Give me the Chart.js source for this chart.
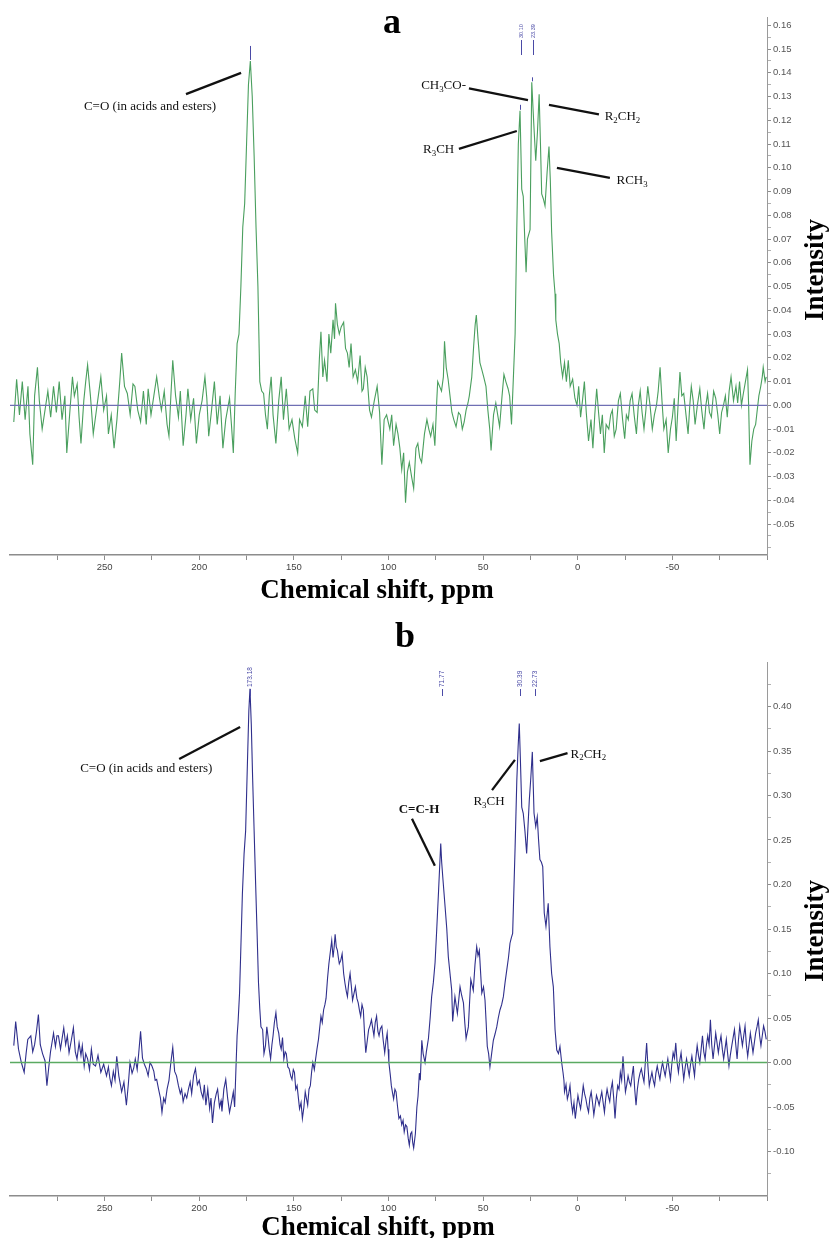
<!DOCTYPE html>
<html>
<head>
<meta charset="utf-8">
<script src="https://cdn.jsdelivr.net/npm/chart.js@4.4.1/dist/chart.umd.min.js"></script>
<style>
  html, body { margin: 0; padding: 0; background: #fff; }
  #wrap { position: relative; width: 830px; height: 1238px; overflow: hidden; background: #fff; }
  canvas { position: absolute; left: 0; }
  #chartA { top: 0; }
  #chartB { top: 610px; }
</style>
</head>
<body>
<div id="wrap">
  <canvas id="chartA" width="830" height="610" style="width:830px;height:610px"></canvas>
  <canvas id="chartB" width="830" height="628" style="width:830px;height:628px"></canvas>
</div>
<script>
// ---- data (ppm, intensity) ----
const shiftA = [
  298, 296.5, 295, 293.5, 292, 290.5, 289.5, 288, 287, 285.5,
  284.5, 283, 281.5, 280, 278.5, 277, 275.5, 274, 272.5, 271,
  270, 268.5, 267, 266, 264.5, 263.5, 262.5, 261, 260, 259,
  257.5, 256, 254.5, 253, 252, 250.5, 249, 248, 246.5, 245,
  243.5, 242, 241, 239.5, 238, 236.5, 235, 234, 232.5, 231,
  229.5, 228, 227, 225.5, 224, 222.5, 221, 220, 218.5, 217,
  216, 215, 214, 212.5, 211, 210, 208.5, 207, 206, 204.5,
  203, 201.5, 200, 198.5, 197, 196, 195, 193.5, 192, 190.5,
  189, 187.5, 186, 184, 183, 182, 181, 180, 179, 178,
  177, 176, 175, 174, 173, 172, 171, 170, 169, 168,
  167, 166, 165, 164, 163, 162, 161, 159.5, 158, 156.7,
  155.5, 154, 152.5, 151, 149.5, 148, 147, 145.5, 144, 142.7,
  141.5, 140, 139, 137.7, 136.5, 135.7, 134.7, 133.8, 132.5, 131.5,
  130.5, 129.3, 128.5, 128, 127, 126, 125, 123.7, 122.7, 121.7,
  120.8, 119.8, 118.7, 117.5, 116.3, 115, 114, 113.3, 112.3, 111.3,
  110, 109, 107.5, 106, 104.7, 103.5, 102.3, 101, 99.3, 98.3,
  97.3, 96, 95, 94, 93, 92, 91, 90, 89, 87.8,
  86.7, 85.5, 84.5, 83.5, 82.5, 81, 79.7, 78.7, 77.7, 76.5,
  75.5, 74.5, 74, 73, 72, 71, 70.4, 69.5, 68.5, 67.5,
  66.5, 65.5, 64.3, 63, 62, 61, 60, 59, 58, 57.3,
  56, 55, 54.2, 53.6, 52.7, 51.7, 50.7, 49.7, 48.5, 47.5,
  46.5, 45.8, 44.5, 43.3, 42.3, 41.3, 40, 39, 38, 36.8,
  36, 35, 34, 33.1, 32.2, 31.4, 30.5, 29.6, 28.8, 28,
  27.3, 26.6, 25.2, 24.3, 23.2, 22.2, 21.3, 20.4, 19.7, 19.05,
  18.2, 17.3, 16.2, 15.2, 14.5, 13.8, 12.8, 12, 11.6, 10.7,
  9.8, 9, 8, 7, 6, 5, 4, 2.7, 1.5, 0.4,
  -0.5, -1.5, -2.5, -3.5, -4.5, -5.7, -7, -8, -9, -10,
  -11, -12, -13, -14, -15, -16.4, -17.4, -18.3, -19.3, -20.3,
  -21.5, -22.5, -23.7, -24.8, -25.7, -26.7, -27.7, -28.7, -29.8, -31,
  -32, -33, -34, -35, -36, -37, -38.2, -39.4, -40.5, -41.6,
  -42.5, -43.5, -44.5, -45.5, -46.7, -47.8, -49, -50, -51, -52,
  -53, -54, -55, -56, -57.2, -58.3, -59.2, -60, -61, -62,
  -63.2, -64.5, -65.5, -66.7, -67.7, -68.6, -69.6, -70.6, -71.8, -72.9,
  -74, -75, -76, -77, -78, -79, -80, -81, -82.3, -83.6,
  -84.5, -85.5, -86.5, -87.5, -88.6, -89.7, -90.3, -91, -92, -93,
  -94, -94.7, -95.7, -96.7, -97.5, -98, -99, -99.6
];
const intensityA = [
  -0.007, 0.011, -0.004, 0.010, -0.006, 0.008, -0.012, -0.025, 0.004, 0.016,
  0.002, -0.010, -0.002, 0.006, -0.005, 0.008, -0.003, 0.010, -0.006, 0.004,
  -0.020, -0.004, 0.012, 0.004, 0.009, -0.005, -0.016, 0.002, 0.010, 0.017,
  0.004, -0.012, -0.003, 0.006, 0.012, -0.002, 0.004, -0.012, -0.004, -0.018,
  -0.006, 0.010, 0.022, 0.008, 0.005, -0.004, 0.009, 0.008, -0.002, -0.007,
  0.006, -0.008, 0.007, -0.004, 0.004, 0.012, 0.003, -0.002, 0.006, -0.008,
  -0.013, 0.004, 0.019, 0.004, -0.005, 0.006, -0.017, -0.004, 0.007, -0.006,
  0.003, -0.016, -0.004, 0.002, 0.012, 0.003, -0.013, -0.002, 0.010, -0.008,
  0.004, -0.018, -0.006, 0.003, -0.008, -0.020, 0.005, 0.026, 0.030, 0.050,
  0.075, 0.085, 0.110, 0.135, 0.145, 0.130, 0.105, 0.075, 0.050, 0.010,
  0.006, 0.005, -0.004, -0.010, 0.004, 0.012, -0.004, -0.016, 0.002, 0.012,
  -0.006, 0.007, -0.010, -0.006, -0.014, -0.020, -0.006, -0.009, 0.004, -0.009,
  0.006, 0.007, -0.002, -0.003, 0.020, 0.031, 0.012, 0.019, 0.010, 0.030,
  0.022, 0.036, 0.028, 0.043, 0.034, 0.030, 0.033, 0.035, 0.024, 0.022,
  0.016, 0.026, 0.012, 0.015, 0.010, 0.021, 0.006, 0.007, 0.016, 0.012,
  -0.002, -0.005, 0.002, 0.008, -0.003, -0.025, -0.006, -0.004, -0.010, -0.004,
  -0.017, -0.008, -0.012, -0.018, -0.027, -0.020, -0.041, -0.028, -0.024, -0.030,
  -0.035, -0.018, -0.016, -0.022, -0.024, -0.012, -0.006, -0.010, -0.013, -0.008,
  -0.017, 0.002, 0.010, 0.008, 0.006, 0.012, 0.027, 0.016, 0.011, 0.004,
  -0.003, -0.006, -0.009, -0.003, -0.004, -0.010, -0.007, -0.002, 0.001, 0.004,
  0.012, 0.025, 0.034, 0.038, 0.028, 0.018, 0.015, 0.012, 0.008, -0.002,
  -0.010, -0.019, -0.004, 0.001, -0.004, -0.009, 0.004, 0.013, 0.010, 0.007,
  0.004, -0.008, 0.012, 0.030, 0.075, 0.110, 0.124, 0.091, 0.088, 0.070,
  0.056, 0.070, 0.074, 0.136, 0.118, 0.103, 0.115, 0.131, 0.110, 0.089,
  0.087, 0.084, 0.098, 0.109, 0.095, 0.073, 0.055, 0.047, 0.036, 0.030,
  0.026, 0.018, 0.012, 0.018, 0.010, 0.019, 0.008, 0.011, 0.003, 0.000,
  0.008, -0.005, 0.002, 0.010, -0.003, -0.015, -0.006, -0.018, -0.004, 0.007,
  -0.003, -0.012, -0.004, -0.020, -0.008, -0.010, -0.004, -0.002, -0.013, -0.010,
  0.002, 0.005, -0.006, -0.014, -0.004, -0.006, 0.002, 0.005, -0.004, -0.012,
  0.000, 0.006, -0.003, -0.010, -0.002, 0.008, 0.000, -0.010, -0.004, 0.000,
  0.006, 0.016, 0.002, -0.010, -0.006, -0.020, -0.010, -0.005, 0.003, -0.015,
  0.000, 0.014, 0.004, 0.005, -0.004, -0.012, 0.000, 0.008, 0.002, -0.008,
  0.000, 0.007, -0.002, -0.010, 0.000, 0.005, -0.003, -0.005, 0.006, 0.003,
  -0.004, -0.012, -0.003, 0.000, 0.004, -0.005, 0.006, 0.012, 0.002, 0.008,
  0.001, 0.010, 0.000, 0.005, 0.010, 0.015, 0.000, -0.025, -0.015, -0.010,
  -0.008, -0.003, 0.004, 0.008, 0.012, 0.016, 0.010, 0.012
];

const shiftB = [
  298, 297, 295.5, 294, 292.5, 291.5, 290.6, 289, 288, 287,
  286, 285, 284, 282.8, 281.5, 280.5, 279.5, 278.6, 277.6, 277,
  276, 275.2, 274.4, 273.3, 272.4, 271.6, 270.6, 269.7, 268.8, 267.6,
  266.5, 265.5, 264.6, 263.5, 262.5, 261.8, 260.8, 260, 259, 258,
  257, 256, 254.8, 253.5, 252, 250.5, 249, 248, 247.2, 246.4,
  245.4, 244.5, 243.6, 242.5, 241, 239.8, 238.5, 237.5, 236.6, 235.5,
  234.6, 233.8, 232.8, 232, 231, 230, 229, 228, 227, 226,
  225, 224, 223.3, 222.5, 221.5, 220.5, 219.7, 218.8, 218, 217,
  216, 215, 214, 213, 212, 211, 210, 209.3, 208.5, 207.5,
  206.6, 205.7, 204.8, 204, 203, 202, 201, 200, 199, 198,
  197.3, 196.5, 195.5, 194.5, 193.8, 193, 192, 191, 190.3, 189.3,
  188.5, 188, 187, 186, 185, 184, 183, 182, 181.3, 180.5,
  180, 179.5, 178.7, 178, 177.2, 176.3, 175.5, 174.5, 173.8, 173.2,
  172.5, 171.8, 171, 170.2, 169.5, 168.7, 168, 167.4, 166.5, 165.8,
  165, 164.3, 163.7, 163, 162.3, 161.6, 161, 160.3, 159.5, 158.8,
  158, 157.3, 156.7, 156, 155.3, 154.6, 154, 153.2, 152.5, 151.7,
  151, 150.3, 149.7, 149, 148.3, 147.6, 147, 146.2, 145.5, 144.7,
  144, 143.4, 142.7, 142, 141.3, 140.6, 140, 139.2, 138.5, 137.8,
  137, 136.3, 135.7, 135, 134.3, 133.6, 133, 132.2, 131.5, 130.7,
  130, 129.3, 128.7, 128.2, 127.6, 127, 126.5, 126, 125.2, 124.5,
  123.7, 123, 122.3, 121.7, 121, 120.3, 119.6, 119, 118.2, 117.5,
  116.7, 116, 115.3, 114.7, 114, 113.3, 112.6, 112, 111.2, 110.5,
  109.7, 109, 108.3, 107.7, 107, 106.3, 105.6, 105, 104.3, 103.5,
  102.8, 102, 101.3, 100.7, 100.2, 99.8, 99, 98.5, 97.8, 97.3,
  96.6, 96, 95.2, 94.5, 93.7, 93, 92.3, 91.7, 91, 90.3,
  89.6, 89, 88.3, 87.7, 87.2, 86.7, 85.8, 85, 84.4, 83.7,
  83.2, 82.4, 81.7, 80.7, 80, 78.9, 78, 77.2, 76.3, 75.4,
  74.5, 73.5, 72.4, 71.9, 71.2, 70.1, 69.2, 68.4, 67.5, 66.6,
  66.1, 65.5, 64.9, 63.6, 62.9, 62.2, 61.3, 60.4, 59.7, 59,
  57.8, 57.1, 56.5, 55.2, 54.3, 53.4, 52.7, 52, 51.3, 50.7,
  49.8, 49, 48.4, 47.8, 47.1, 46.4, 45.5, 44.6, 43.7, 42.8,
  42, 41.1, 40.2, 39.3, 38.4, 37.5, 36.6, 35.8, 35.1, 34.4,
  33.8, 33.1, 32.2, 31.5, 30.9, 30.3, 29.6, 28.8, 27.9, 27,
  26.3, 25.6, 24.8, 24, 23.5, 23.1, 22.2, 21.4, 20.7, 20,
  19.2, 18.5, 17.7, 16.8, 15.6, 14.7, 13.8, 12.9, 12, 11.1,
  10.2, 9.4, 8.5, 7.8, 7.3, 7, 6.2, 5.5, 4.8, 4.1,
  3.4, 2.7, 2, 1.3, 0.6, -0.1, -0.8, -1.5, -2.2, -2.9,
  -3.6, -4.3, -5, -5.7, -6.4, -7.1, -7.8, -8.5, -9.2, -9.9,
  -10.6, -11.3, -12, -12.7, -13.4, -14.1, -14.8, -15.5, -16.2, -16.9,
  -17.6, -18.3, -19, -19.7, -20.4, -21.1, -21.8, -22.5, -23.2, -23.9,
  -24.6, -25.2, -25.9, -26.6, -27.3, -28, -28.7, -29.4, -30.1, -30.8,
  -31.5, -32.2, -32.9, -33.6, -34.3, -35, -35.7, -36.4, -37.1, -37.8,
  -38.5, -39.2, -39.9, -40.6, -41.3, -42, -42.7, -43.4, -44.1, -44.8,
  -45.5, -46.2, -46.9, -47.6, -48.3, -49, -49.7, -50.4, -51.1, -51.8,
  -52.5, -53.2, -53.9, -54.6, -55.3, -56, -56.8, -57.5, -58.2, -58.9,
  -59.6, -60.3, -61, -61.7, -62.4, -63.1, -63.8, -64.5, -65.2, -65.9,
  -66.6, -67.3, -68, -68.7, -69.4, -70.1, -70.8, -71.5, -72.2, -72.9,
  -73.6, -74.3, -75, -75.7, -76.4, -77.1, -77.8, -78.5, -79.2, -79.9,
  -80.6, -81.4, -82.1, -82.8, -83.5, -84.2, -84.9, -85.6, -86.3, -87,
  -87.7, -88.4, -89.1, -89.8, -90.5, -91.2, -91.9, -92.6, -93.3, -94,
  -94.7, -95.4, -96.1, -96.8, -97.5, -98.2, -98.9, -99.6
];
const intensityB = [
  0.019, 0.046, 0.015, 0.000, -0.011, 0.010, 0.026, 0.030, 0.012, 0.020,
  0.035, 0.054, 0.020, 0.010, 0.002, -0.026, -0.005, 0.012, 0.025, 0.033,
  0.018, 0.030, 0.030, 0.015, 0.028, 0.039, 0.020, 0.030, 0.011, 0.025,
  0.039, 0.012, 0.004, 0.022, 0.008, 0.019, -0.004, 0.010, 0.004, -0.008,
  0.015, -0.002, -0.004, 0.008, -0.011, -0.002, -0.015, -0.005, -0.018, -0.026,
  -0.010, -0.020, 0.007, -0.015, -0.033, -0.022, -0.048, -0.025, 0.000, -0.012,
  -0.006, 0.004, -0.008, 0.010, 0.035, 0.005, -0.002, -0.007, -0.015, 0.000,
  -0.004, -0.010, -0.020, -0.019, -0.030, -0.040, -0.056, -0.040, -0.045, -0.030,
  -0.020, 0.000, 0.017, -0.010, -0.015, -0.026, -0.035, -0.030, -0.044, -0.035,
  -0.040, -0.030, -0.022, -0.035, -0.015, -0.007, -0.025, -0.020, -0.033, -0.040,
  -0.025, -0.048, -0.030, -0.052, -0.040, -0.068, -0.045, -0.035, -0.030, -0.050,
  -0.043, -0.055, -0.030, -0.019, -0.040, -0.056, -0.045, -0.033, -0.050, 0.000,
  0.030, 0.045, 0.078, 0.130, 0.190, 0.235, 0.260, 0.340, 0.395, 0.420,
  0.380, 0.320, 0.260, 0.200, 0.150, 0.090, 0.060, 0.040, 0.037, 0.010,
  0.019, 0.040, 0.030, 0.015, 0.004, 0.020, 0.030, 0.045, 0.056, 0.040,
  0.033, 0.020, 0.015, 0.028, 0.004, 0.012, 0.010, -0.005, -0.007, -0.015,
  -0.019, -0.008, -0.011, -0.030, -0.026, -0.040, -0.052, -0.045, -0.063, -0.050,
  -0.033, -0.040, -0.048, -0.030, -0.026, -0.010, 0.000, -0.008, 0.004, 0.015,
  0.026, 0.040, 0.052, 0.045, 0.059, 0.065, 0.072, 0.095, 0.111, 0.125,
  0.137, 0.118, 0.130, 0.144, 0.130, 0.126, 0.118, 0.111, 0.115, 0.122,
  0.100, 0.089, 0.080, 0.074, 0.090, 0.100, 0.085, 0.070, 0.078, 0.085,
  0.072, 0.067, 0.058, 0.052, 0.065, 0.059, 0.030, 0.011, 0.025, 0.037,
  0.042, 0.048, 0.038, 0.030, 0.045, 0.052, 0.035, 0.030, 0.038, 0.041,
  0.025, 0.011, 0.025, 0.033, 0.015, 0.000, -0.015, -0.026, -0.035, -0.041,
  -0.030, -0.033, -0.050, -0.063, -0.060, -0.070, -0.065, -0.078, -0.070, -0.072,
  -0.085, -0.093, -0.080, -0.078, -0.090, -0.096, -0.080, -0.050, -0.038, -0.012,
  -0.020, 0.025, 0.010, 0.000, 0.012, 0.027, 0.050, 0.074, 0.090, 0.112,
  0.150, 0.195, 0.246, 0.225, 0.205, 0.175, 0.150, 0.119, 0.100, 0.081,
  0.046, 0.060, 0.074, 0.055, 0.070, 0.085, 0.075, 0.067, 0.045, 0.027,
  0.040, 0.070, 0.093, 0.081, 0.110, 0.130, 0.120, 0.126, 0.100, 0.078,
  0.085, 0.070, 0.045, 0.018, 0.010, -0.005, 0.010, 0.025, 0.032, 0.040,
  0.050, 0.059, 0.065, 0.074, 0.090, 0.104, 0.118, 0.134, 0.140, 0.145,
  0.190, 0.242, 0.317, 0.355, 0.381, 0.340, 0.287, 0.280, 0.260, 0.235,
  0.265, 0.295, 0.320, 0.349, 0.310, 0.280, 0.265, 0.276, 0.250, 0.228,
  0.225, 0.220, 0.168, 0.153, 0.179, 0.130, 0.100, 0.085, 0.037, 0.014,
  0.010, 0.018, 0.000, -0.011, -0.020, -0.033, -0.025, -0.041, -0.035, -0.026,
  -0.045, -0.056, -0.045, -0.063, -0.050, -0.037, -0.045, -0.052, -0.040, -0.026,
  -0.035, -0.041, -0.050, -0.056, -0.040, -0.033, -0.045, -0.059, -0.048, -0.037,
  -0.042, -0.048, -0.040, -0.033, -0.045, -0.056, -0.040, -0.030, -0.038, -0.044,
  -0.030, -0.022, -0.040, -0.063, -0.040, -0.026, -0.030, -0.011, -0.020, 0.007,
  -0.015, -0.033, -0.025, -0.015, -0.022, -0.026, -0.015, -0.004, -0.030, -0.048,
  -0.030, -0.019, -0.012, -0.007, -0.015, -0.022, 0.000, 0.022, -0.005, -0.026,
  -0.018, -0.011, -0.020, -0.026, -0.012, -0.004, -0.012, -0.019, -0.008, 0.000,
  -0.008, -0.015, -0.005, 0.004, -0.008, -0.019, -0.002, 0.011, 0.005, 0.022,
  0.000, -0.011, 0.002, 0.011, -0.004, -0.019, -0.005, 0.004, -0.006, -0.015,
  -0.002, 0.007, -0.004, -0.015, 0.005, 0.019, 0.008, 0.000, 0.015, 0.030,
  0.012, 0.004, 0.020, 0.030, 0.020, 0.048, 0.020, 0.004, 0.018, 0.033,
  0.022, 0.011, 0.022, 0.030, 0.015, 0.004, 0.015, 0.026, 0.010, -0.004,
  0.008, 0.019, 0.028, 0.037, 0.020, 0.004, 0.025, 0.041, 0.030, 0.019,
  0.030, 0.041, 0.020, 0.007, 0.020, 0.033, 0.022, 0.011, 0.022, 0.033,
  0.040, 0.048, 0.030, 0.019, 0.030, 0.041, 0.035, 0.026
];

// axis ticks
const xLabelled = [250, 200, 150, 100, 50, 0, -50];
const xMinor = [275, 225, 175, 125, 75, 25, -25, -75, -100];
const yLabelledA = [0.16, 0.15, 0.14, 0.13, 0.12, 0.11, 0.10, 0.09, 0.08, 0.07, 0.06,
  0.05, 0.04, 0.03, 0.02, 0.01, 0.00, -0.01, -0.02, -0.03, -0.04, -0.05];
const yMinorA = [0.155, 0.145, 0.135, 0.125, 0.115, 0.105, 0.095, 0.085, 0.075, 0.065,
  0.055, 0.045, 0.035, 0.025, 0.015, 0.005, -0.005, -0.015, -0.025, -0.035, -0.045, -0.055, -0.06];
const yLabelledB = [0.40, 0.35, 0.30, 0.25, 0.20, 0.15, 0.10, 0.05, 0.00, -0.05, -0.10];
const yMinorB = [0.425, 0.375, 0.325, 0.275, 0.225, 0.175, 0.125, 0.075, 0.025,
  -0.025, -0.075, -0.125];

// peak picks and assignments
const peakTagsA = [[30.10, '30.10'], [23.39, '23.39']];
const peakTagsB = [[173.18, '173.18'], [71.77, '71.77'], [30.39, '30.39'], [22.73, '22.73']];
const peakMarksA = [[173.1, 0.145, 14], [30.5, 0.124, 5], [24.3, 0.136, 4]];

const notesA = [
  { text: 'C=O (in acids and esters)', at: [226, 0.126], from: [207, 0.131], to: [177.9, 0.140] },
  { text: 'CH{3}CO-', at: [70.9, 0.135], from: [57.5, 0.1335], to: [26.3, 0.1285] },
  { text: 'R{2}CH{2}', at: [-23.6, 0.122], from: [15.2, 0.1265], to: [-11.2, 0.1225] },
  { text: 'R{3}CH', at: [73.5, 0.108], from: [62.8, 0.108], to: [32.2, 0.1155] },
  { text: 'RCH{3}', at: [-28.7, 0.095], from: [11, 0.100], to: [-17, 0.0958] }
];
const notesB = [
  { text: 'C=O (in acids and esters)', at: [228, 0.331], from: [210.6, 0.341], to: [178.4, 0.377] },
  { text: 'C=C-H', bold: true, at: [83.9, 0.285], from: [87.6, 0.274], to: [75.5, 0.221] },
  { text: 'R{3}CH', at: [46.9, 0.294], from: [45.3, 0.306], to: [33.2, 0.340] },
  { text: 'R{2}CH{2}', at: [-5.6, 0.3475], from: [20, 0.3386], to: [5.4, 0.3475] }
];

const SERIF = '"Liberation Serif", "Times New Roman", serif';

// draws text with {n} parts as subscripts, centred on cx/cy
function drawRich(ctx, text, cx, cy, size, bold) {
  const w8 = bold ? 'bold ' : '';
  const parts = text.split(/(\{[^}]*\})/).filter(Boolean)
    .map(p => p[0] === '{' ? { t: p.slice(1, -1), sub: true } : { t: p, sub: false });
  let total = 0;
  parts.forEach(p => {
    ctx.font = w8 + (p.sub ? size * 0.68 : size) + 'px ' + SERIF;
    p.w = ctx.measureText(p.t).width;
    total += p.w;
  });
  let x = cx - total / 2;
  const base = cy + size * 0.34;
  ctx.textAlign = 'left';
  ctx.textBaseline = 'alphabetic';
  parts.forEach(p => {
    ctx.font = w8 + (p.sub ? size * 0.68 : size) + 'px ' + SERIF;
    ctx.fillText(p.t, x, p.sub ? base + size * 0.2 : base);
    x += p.w;
  });
}

const decorPlugin = {
  id: 'decor',
  afterDraw(chart, args, o) {
    const { ctx } = chart;
    const x = chart.scales.x, y = chart.scales.y;
    ctx.save();
    ctx.fillStyle = '#000';

    // panel letter
    ctx.font = 'bold 36px ' + SERIF;
    ctx.textAlign = 'center';
    ctx.textBaseline = 'alphabetic';
    ctx.fillText(o.letter, o.letterPos[0], o.letterPos[1]);

    // axis titles
    ctx.font = 'bold 27px ' + SERIF;
    ctx.fillText('Chemical shift, ppm', o.xTitlePos[0], o.xTitlePos[1]);
    ctx.save();
    ctx.translate(o.yTitlePos[0], o.yTitlePos[1]);
    ctx.rotate(-Math.PI / 2);
    ctx.textBaseline = 'middle';
    ctx.fillText('Intensity', 0, 0);
    ctx.restore();

    // assignments
    ctx.strokeStyle = '#111';
    ctx.lineWidth = 2.3;
    o.notes.forEach(n => {
      ctx.beginPath();
      ctx.moveTo(x.getPixelForValue(n.from[0]), y.getPixelForValue(n.from[1]));
      ctx.lineTo(x.getPixelForValue(n.to[0]), y.getPixelForValue(n.to[1]));
      ctx.stroke();
      ctx.fillStyle = '#111';
      drawRich(ctx, n.text, x.getPixelForValue(n.at[0]), y.getPixelForValue(n.at[1]), 13, n.bold);
    });

    // peak picks
    ctx.fillStyle = '#4a4aa6';
    ctx.strokeStyle = '#4a4aa6';
    ctx.lineWidth = 1;
    o.tags.forEach(([ppm, label]) => {
      const px = Math.round(x.getPixelForValue(ppm)) + 0.5;
      ctx.save();
      ctx.translate(px, o.tagBottom);
      ctx.rotate(-Math.PI / 2);
      ctx.font = o.tagSize + 'px "Liberation Sans", sans-serif';
      ctx.textAlign = 'left';
      ctx.textBaseline = 'middle';
      ctx.fillText(label, 0, 0);
      ctx.restore();
      ctx.beginPath();
      ctx.moveTo(px, o.tagBottom + 2);
      ctx.lineTo(px, o.tagBottom + o.dash);
      ctx.stroke();
    });
    (o.marks || []).forEach(([ppm, v, len]) => {
      const px = Math.round(x.getPixelForValue(ppm)) + 0.5;
      const py = y.getPixelForValue(v);
      ctx.beginPath();
      ctx.moveTo(px, py - 1);
      ctx.lineTo(px, py - 1 - len);
      ctx.stroke();
    });
    ctx.restore();
  }
};

function makeSpectrum(id, cfg) {
  const ctx = document.getElementById(id).getContext('2d');
  const yLabelled = cfg.yLabelled;
  const isLabelled = v => yLabelled.some(m => Math.abs(m - v) < 1e-9);
  return new Chart(ctx, {
    type: 'line',
    data: {
      datasets: [
        {
          data: [{ x: 300, y: 0 }, { x: -100, y: 0 }],
          borderColor: cfg.zeroColor, borderWidth: 1.3, pointRadius: 0
        },
        {
          data: cfg.shifts.map((s, i) => ({ x: s, y: cfg.values[i] })),
          borderColor: cfg.lineColor, borderWidth: 1.1, pointRadius: 0, tension: 0
        }
      ]
    },
    options: {
      responsive: false,
      animation: false,
      devicePixelRatio: 1,
      layout: { padding: { left: 10, top: cfg.top, right: 0, bottom: 0 } },
      plugins: {
        legend: { display: false },
        tooltip: { enabled: false },
        decor: cfg.decor
      },
      scales: {
        x: {
          type: 'linear', reverse: true, min: -100, max: 300,
          afterBuildTicks: s => {
            s.ticks = xLabelled.concat(xMinor).sort((a, b) => b - a).map(v => ({ value: v }));
          },
          afterFit: s => { s.height = cfg.xAxisHeight; },
          grid: { drawOnChartArea: false, drawTicks: true, tickLength: 5, color: '#8c8c8c' },
          border: { display: true, color: '#8c8c8c', width: 1.5 },
          ticks: {
            autoSkip: false, maxRotation: 0, padding: 2, color: '#444',
            font: { family: 'Liberation Sans', size: 9.5 },
            callback: v => xLabelled.includes(v) ? String(v) : ''
          }
        },
        y: {
          type: 'linear', position: 'right', min: cfg.yMin, max: cfg.yMax,
          afterBuildTicks: s => {
            s.ticks = yLabelled.concat(cfg.yMinor).sort((a, b) => a - b).map(v => ({ value: v }));
          },
          afterFit: s => { s.width = 63; },
          grid: {
            drawOnChartArea: false, drawTicks: true, tickLength: 4,
            color: c => (c.tick && isLabelled(c.tick.value)) ? '#8c8c8c' : '#b0b0b0'
          },
          border: { display: true, color: '#9a9a9a', width: 1 },
          ticks: {
            autoSkip: false, padding: 2, color: '#555',
            font: { family: 'Liberation Sans', size: 9.5 },
            callback: v => isLabelled(v) ? v.toFixed(2) : ''
          }
        }
      }
    },
    plugins: [decorPlugin]
  });
}

makeSpectrum('chartA', {
  shifts: shiftA, values: intensityA,
  lineColor: '#4a9f5e', zeroColor: '#6f6fb4',
  yMin: -0.063, yMax: 0.1635, yLabelled: yLabelledA, yMinor: yMinorA,
  top: 17, xAxisHeight: 55,
  decor: {
    letter: 'a', letterPos: [392, 33],
    xTitlePos: [377, 598], yTitlePos: [816, 270],
    notes: notesA, tags: peakTagsA, tagBottom: 38, tagSize: 5.5, dash: 17,
    marks: peakMarksA
  }
});

makeSpectrum('chartB', {
  shifts: shiftB, values: intensityB,
  lineColor: '#2f2f8c', zeroColor: '#5aaa62',
  yMin: -0.15, yMax: 0.45, yLabelled: yLabelledB, yMinor: yMinorB,
  top: 52, xAxisHeight: 42,
  decor: {
    letter: 'b', letterPos: [405, 37],
    xTitlePos: [378, 625], yTitlePos: [816, 321],
    notes: notesB, tags: peakTagsB, tagBottom: 77, tagSize: 6.5, dash: 9,
    marks: []
  }
});
</script>
</body>
</html>
